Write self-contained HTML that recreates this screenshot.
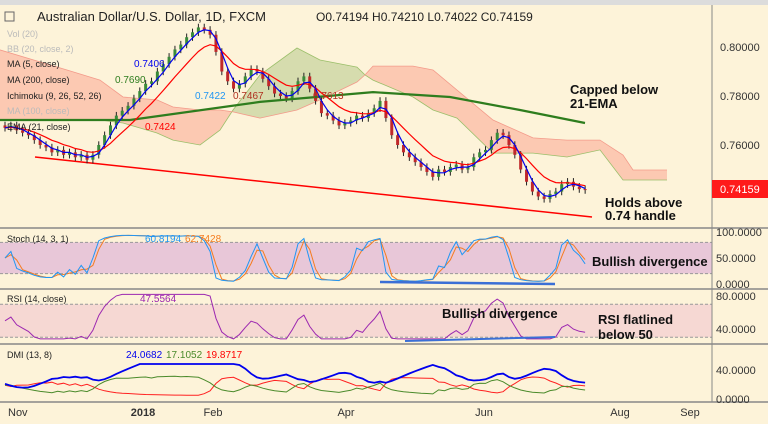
<!DOCTYPE html>
<html><head><meta charset="utf-8"><style>
html,body{margin:0;padding:0;background:#fdf3d9;}
svg{display:block;font-family:"Liberation Sans",sans-serif;}
</style></head><body>
<svg id="c" width="768" height="424" viewBox="0 0 768 424"></svg>
<script>
// ---- data ----
const closes=[.767,.768,.766,.765,.764,.762,.760,.759,.757,.758,.756,.757,.755,.756,.754,.756,.760,.764,.768,.772,.774,.776,.779,.782,.785,.786,.790,.793,.796,.799,.801,.804,.806,.808,.807,.805,.798,.790,.786,.783,.785,.788,.791,.790,.787,.784,.781,.780,.779,.782,.786,.788,.783,.778,.773,.772,.770,.768,.769,.770,.772,.771,.773,.775,.778,.771,.764,.760,.757,.755,.753,.751,.749,.747,.750,.749,.751,.752,.750,.751,.755,.757,.758,.762,.765,.764,.760,.756,.750,.745,.741,.739,.738,.740,.741,.744,.745,.743,.742,.7416];
const cloudX=[0,67,100,123,157,173,200,220,233,260,297,320,357,365,373,413,433,457,493,533,567,600,623,633,667];
const spanA=[.7702,.7702,.7702,.7690,.7649,.7620,.7600,.7661,.7743,.7886,.7996,.7947,.7918,.7886,.7865,.7796,.7743,.7710,.7567,.7567,.7551,.7580,.7457,.7457,.7457];
const spanB=[.7988,.7906,.7865,.7796,.7784,.7755,.7743,.7743,.7735,.7710,.7743,.7784,.7857,.7886,.7922,.7922,.7906,.7824,.7702,.7629,.7620,.7620,.7559,.7498,.7498];
const ma200X=[0,130,260,373,450,520,585];
const ma200=[.7702,.7702,.7776,.7816,.7796,.7743,.7690];
const priceTicks=[0.80,0.78,0.76];
const stochTicks=[100,50,0], rsiTicks=[80,40], dmiTicks=[40,0];
const months=["Nov","2018","Feb","Apr","Jun","Aug","Sep"];
const monthX=[8,143,213,346,484,620,690];
// ---- scales ----
const S=document.getElementById('c'),NS="http://www.w3.org/2000/svg";
const xi=i=>5+i*5.86;
const py=p=>47+(0.80-p)*2450;
const sy=v=>284-v*0.52;
const ry=v=>329-(v-40)*0.825;
const dy=v=>399-v*0.73;
function el(t,a,txt){const e=document.createElementNS(NS,t);for(const k in a)e.setAttribute(k,a[k]);if(txt!==undefined)e.textContent=txt;S.appendChild(e);return e;}
function pl(pts){return pts.map(p=>p[0].toFixed(1)+","+p[1].toFixed(1)).join(" ");}
let e;
e=el('rect',{x:0,y:0,width:768,height:5,fill:'#dcdcdc'});

e=el('rect',{x:0,y:sy(80),width:712,height:sy(20)-sy(80),fill:'#e8c7d8'});

e=el('rect',{x:0,y:ry(70),width:712,height:ry(30)-ry(70),fill:'#f6d8d3'});

[sy(80),sy(20),ry(70),ry(30)].forEach(y=>{el('line',{x1:0,x2:712,y1:y,y2:y,stroke:'#999','stroke-dasharray':'3,2','stroke-width':1});});
for(let k=0;k<cloudX.length-1;k++){
  const a1=py(spanA[k]),a2=py(spanA[k+1]),b1=py(spanB[k]),b2=py(spanB[k+1]);
  const green=(spanA[k]+spanA[k+1])>(spanB[k]+spanB[k+1]);
  e=el('polygon',{points:pl([[cloudX[k],a1],[cloudX[k+1],a2],[cloudX[k+1],b2],[cloudX[k],b1]]),fill:green?'#d6dcae':'#fcc9b2',stroke:'none'});
  
}
el('polyline',{points:pl(cloudX.map((x,k)=>[x,py(spanA[k])])),fill:'none',stroke:'#9bbf6a','stroke-width':0.8});
el('polyline',{points:pl(cloudX.map((x,k)=>[x,py(spanB[k])])),fill:'none',stroke:'#f39a8a','stroke-width':0.8});
[228,289,344,402].forEach(y=>{el('line',{x1:0,x2:768,y1:y,y2:y,stroke:'#888','stroke-width':1.5});});
el('line',{x1:712,x2:712,y1:5,y2:402,stroke:'#888','stroke-width':1});
e=el('line',{x1:35,y1:157,x2:592,y2:217,stroke:'#ff0000','stroke-width':1.5});

closes.forEach((c,i)=>{
  const o=i?closes[i-1]:c+0.001;const hi=Math.max(o,c)+0.0015,lo=Math.min(o,c)-0.0015;
  const col=c>=o?'#3a8a3a':'#c0282a';const x=xi(i);
  el('line',{x1:x,x2:x,y1:py(hi),y2:py(lo),stroke:'#222','stroke-width':1});
  const b=el('rect',{x:x-1.5,y:py(Math.max(o,c)),width:3,height:Math.max(1,Math.abs(py(o)-py(c))),fill:col});
  
});
e=el('polyline',{points:pl(ma200X.map((x,k)=>[x,py(ma200[k])])),fill:'none',stroke:'#2e7d1e','stroke-width':2.2});

const ma=[],ema=[];let ev=closes[0];
closes.forEach((c,i)=>{const s=closes.slice(Math.max(0,i-2),i+1);ma.push(s.reduce((a,b)=>a+b)/s.length);ev=ev+(c-ev)*0.2;ema.push(ev);});
e=el('polyline',{points:pl(ema.map((v,i)=>[xi(i),py(v)])),fill:'none',stroke:'#ff0000','stroke-width':1.2});

e=el('polyline',{points:pl(ma.map((v,i)=>[xi(i),py(v)])),fill:'none',stroke:'#0000ee','stroke-width':1.2});

const k=[];closes.forEach((c,i)=>{const w=closes.slice(Math.max(0,i-6),i+1);const h=Math.max(...w)+0.0015,l=Math.min(...w)-0.0015;k.push((c-l)/(h-l)*100);});
const d=k.map((v,i)=>{const s=k.slice(Math.max(0,i-1),i+1);return s.reduce((a,b)=>a+b)/s.length;});
e=el('polyline',{points:pl(d.map((v,i)=>[xi(i),sy(v)])),fill:'none',stroke:'#f57c20','stroke-width':1});

e=el('polyline',{points:pl(k.map((v,i)=>[xi(i),sy(v)])),fill:'none',stroke:'#2196f3','stroke-width':1});

const rsi=[];let ag=0.001,al=0.001;
closes.forEach((c,i)=>{const ch=i?c-closes[i-1]:0;ag=(ag*6+Math.max(ch,0))/7;al=(al*6+Math.max(-ch,0))/7;rsi.push(100-100/(1+ag/al));});
e=el('polyline',{points:pl(rsi.map((v,i)=>[xi(i),ry(Math.min(82,Math.max(28,v)))])),fill:'none',stroke:'#9c27b0','stroke-width':1});

const pdi=[],mdi=[],adx=[];let sp=0.002,sm=0.002,ax=25;
closes.forEach((c,i)=>{const ch=i?c-closes[i-1]:0;sp=(sp*4+Math.max(ch,0))/5;sm=(sm*4+Math.max(-ch,0))/5;
  const p=sp/(sp+sm+0.002)*45+5,m=sm/(sp+sm+0.002)*45+5;pdi.push(p);mdi.push(m);ax=(ax*5+Math.abs(p-m)/(p+m)*100)/6;adx.push(ax);});
[[mdi,'#ff2020','dmi-minus-line'],[pdi,'#4a8a2a','dmi-plus-line'],[adx,'#0000ee','adx-line']].forEach(([arr,col,n],j)=>{
  e=el('polyline',{points:pl(arr.map((v,i)=>[xi(i),dy(Math.min(48,v))])),fill:'none',stroke:col,'stroke-width':j==2?1.8:1});
  });
e=el('line',{x1:380,y1:282,x2:555,y2:284,stroke:'#3b6fd6','stroke-width':2.5});

e=el('line',{x1:405,y1:341,x2:555,y2:337,stroke:'#3b6fd6','stroke-width':2});

priceTicks.forEach(t=>{e=el('text',{x:720,y:py(t)+4,'font-size':11,fill:'#333'},t.toFixed(5));});
e=el('rect',{x:712,y:180,width:56,height:18,fill:'#ff1a1a'});
e=el('text',{x:720,y:193,'font-size':11,fill:'#fff'},'0.74159');
stochTicks.forEach(t=>{e=el('text',{x:716,y:sy(t)+4,'font-size':11,fill:'#333'},t.toFixed(4));});
rsiTicks.forEach(t=>{e=el('text',{x:716,y:ry(t)+4,'font-size':11,fill:'#333'},t.toFixed(4));});
dmiTicks.forEach(t=>{e=el('text',{x:716,y:dy(t)+4,'font-size':11,fill:'#333'},t.toFixed(4));});
months.forEach((m,i)=>{e=el('text',{x:monthX[i],y:416,'font-size':11,fill:'#333','font-weight':m==='2018'?'bold':'normal','text-anchor':i==0?'start':'middle'},m);});
e=el('text',{x:37,y:21,'font-size':13,fill:'#222'},'Australian Dollar/U.S. Dollar, 1D, FXCM');
e=el('text',{x:316,y:21,'font-size':12,fill:'#222'},'O0.74194  H0.74210  L0.74022  C0.74159');
el('rect',{x:5,y:12,width:9,height:9,fill:'none',stroke:'#666'});
const leg=[['Vol (20)',37,'#bbb'],['BB (20, close, 2)',52,'#bbb'],['MA (5, close)',67,'#222'],['MA (200, close)',83,'#222'],['Ichimoku (9, 26, 52, 26)',99,'#222'],['MA (100, close)',114,'#bbb'],['EMA (21, close)',130,'#222']];
leg.forEach(l=>{e=el('text',{x:7,y:l[1],'font-size':9,fill:l[2]},l[0]);});
[['0.7406',134,67,'#0000ee'],['0.7690',115,83,'#2e7d1e'],['0.7422',195,99,'#2196f3'],['0.7467',233,99,'#b03020'],['0.7613',313,99,'#b03020'],['0.7424',145,130,'#ff0000']].forEach(v=>{el('text',{x:v[1],y:v[2],'font-size':10,fill:v[3]},v[0]);});
e=el('text',{x:7,y:242,'font-size':9,fill:'#222'},'Stoch (14, 3, 1)');
el('text',{x:145,y:242,'font-size':10,fill:'#2196f3'},'60.8194');el('text',{x:185,y:242,'font-size':10,fill:'#f57c20'},'62.7428');
e=el('text',{x:7,y:302,'font-size':9,fill:'#222'},'RSI (14, close)');
el('text',{x:140,y:302,'font-size':10,fill:'#9c27b0'},'47.5564');
e=el('text',{x:7,y:358,'font-size':9,fill:'#222'},'DMI (13, 8)');
el('text',{x:126,y:358,'font-size':10,fill:'#0000ee'},'24.0682');el('text',{x:166,y:358,'font-size':10,fill:'#4a8a2a'},'17.1052');el('text',{x:206,y:358,'font-size':10,fill:'#ff0000'},'19.8717');
const ann=[['Capped below',570,94],['21-EMA',570,108],['Holds above',605,207],['0.74 handle',605,220],['Bullish divergence',592,266],['Bullish divergence',442,318],['RSI flatlined',598,324],['below 50',598,339]];
ann.forEach(a=>{e=el('text',{x:a[1],y:a[2],'font-size':13,'font-weight':'bold',fill:'#111'},a[0]);});
</script>
</body></html>
